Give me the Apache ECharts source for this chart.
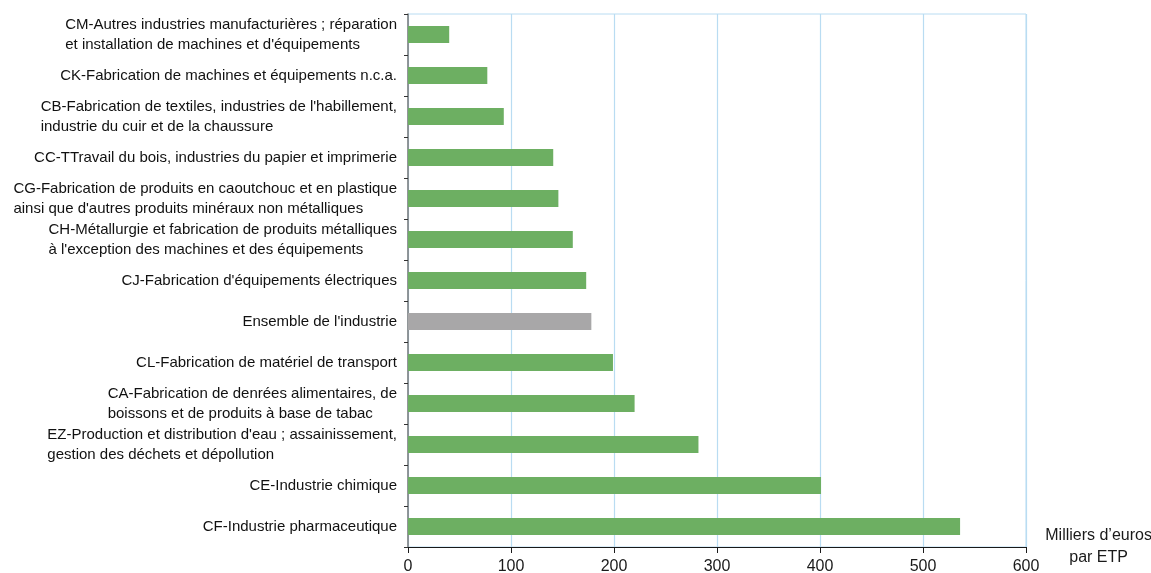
<!DOCTYPE html>
<html>
<head>
<meta charset="utf-8">
<script src="https://cdn.jsdelivr.net/npm/echarts@6/dist/echarts.min.js"></script>
<style>html,body{margin:0;padding:0;background:#fff}#c{width:1151px;height:573px}</style>
</head>
<body>
<div id="c"></div>
<script>
const categories = [
  "CM-Autres industries manufacturières ; réparation\net installation de machines et d'équipements",
  "CK-Fabrication de machines et équipements n.c.a.",
  "CB-Fabrication de textiles, industries de l'habillement,\nindustrie du cuir et de la chaussure",
  "CC-TTravail du bois, industries du papier et imprimerie",
  "CG-Fabrication de produits en caoutchouc et en plastique\nainsi que d'autres produits minéraux non métalliques",
  "CH-Métallurgie et fabrication de produits métalliques\nà l'exception des machines et des équipements",
  "CJ-Fabrication d'équipements électriques",
  "Ensemble de l'industrie",
  "CL-Fabrication de matériel de transport",
  "CA-Fabrication de denrées alimentaires, de\nboissons et de produits à base de tabac",
  "EZ-Production et distribution d'eau ; assainissement,\ngestion des déchets et dépollution",
  "CE-Industrie chimique",
  "CF-Industrie pharmaceutique"
];
const values = [40, 77, 93, 141, 146, 160, 173, 178, 199, 220, 282, 401, 536];
const totalCategory = "Ensemble de l'industrie";
const xTicks = [0, 100, 200, 300, 400, 500, 600];
const unitLabel = "Milliers d’euros\npar ETP";

const FONT = "'Liberation Sans', Arial, sans-serif";
const chart = echarts.init(document.getElementById('c'), null, {renderer: 'canvas'});
chart.setOption({
  animation: false,
  grid: {left: 408, right: 125, top: 14, bottom: 26, show: true, borderColor: '#b9dcf2', borderWidth: 1,
         containLabel: false, outerBoundsMode: 'none'},
  xAxis: {
    type: 'value', min: xTicks[0], max: xTicks[xTicks.length - 1], interval: 100,
    axisLine: {show: true, lineStyle: {color: '#1a1a1a', width: 1}},
    axisTick: {show: true, length: 6, lineStyle: {color: '#1a1a1a'}},
    splitLine: {show: true, lineStyle: {color: '#b9dcf2', width: 1.2}},
    axisLabel: {color: '#1a1a1a', fontSize: 16, fontFamily: FONT, margin: 12},
    name: unitLabel, nameLocation: 'end', nameGap: 70,
    nameTextStyle: {color: '#1a1a1a', fontSize: 16, fontFamily: FONT, align: 'center', verticalAlign: 'middle', lineHeight: 22}
  },
  yAxis: {
    type: 'category', data: categories, inverse: true,
    axisLine: {show: true, lineStyle: {color: '#7a7a7a', width: 1.5}},
    axisTick: {show: true, length: 4, lineStyle: {color: '#333'}},
    splitLine: {show: false},
    axisLabel: {
      margin: 11, color: '#111', fontSize: 15, fontFamily: FONT, align: 'right',
      formatter: v => v.split('\n').map(l => '{a|' + l + '}').join('\n'),
      rich: {a: {align: 'left', fontSize: 15, fontFamily: FONT, color: '#111', lineHeight: 20}}
    }
  },
  series: [{
    type: 'bar', data: values, barWidth: 17,
    itemStyle: {color: p => categories[p.dataIndex] === totalCategory ? '#a8a7a8' : '#6daf62'}
  }]
});
</script>
</body>
</html>
